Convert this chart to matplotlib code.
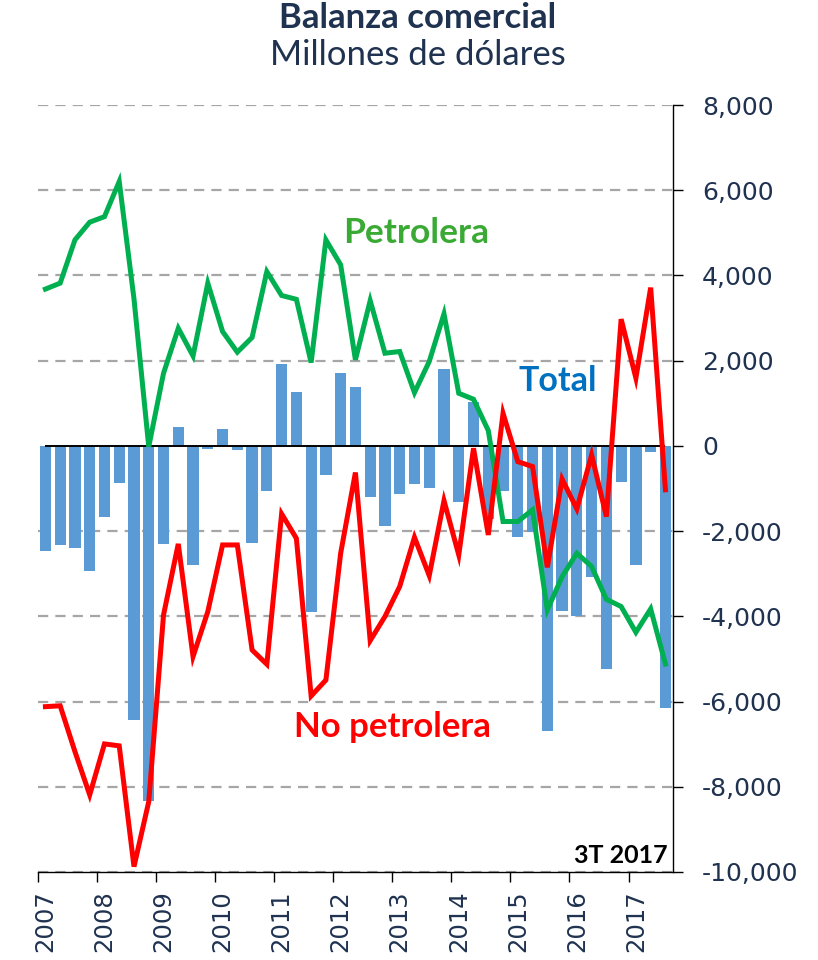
import matplotlib
matplotlib.use("Agg")
import matplotlib.pyplot as plt
import numpy as np

# ---- data (millones de dólares, trimestral 2007T1 - 2017T3) ----
years = ["2007", "2008", "2009", "2010", "2011", "2012", "2013", "2014", "2015", "2016", "2017"]

total = [-2470, -2320, -2400, -2930, -1660, -880, -6430, -8330,
         -2310, 455, -2800, -75, 390, -95, -2270, -1060,
         1920, 1260, -3900, -680, 1720, 1385, -1190, -1885,
         -1135, -900, -980, 1810, -1315, 1030, -1720, -1055,
         -2150, -2010, -6680, -3870, -4000, -3080, -5240, -850,
         -2785, -150, -6160]

petrolera = [3680, 3820, 4835, 5250, 5380, 6205, 3450, -20,
             1705, 2760, 2110, 3820, 2685, 2200, 2545, 4090,
             3530, 3440, 1955, 4835, 4250, 2020, 3410, 2175,
             2215, 1250, 1980, 3100, 1235, 1095, 360, -1775,
             -1775, -1500, -3850, -3070, -2520, -2830, -3600, -3770,
             -4375, -3825, -5120]

no_petrolera = [-6120, -6100, -7175, -8190, -6995, -7040, -9875, -8350,
                -3970, -2300, -4945, -3890, -2325, -2325, -4790, -5125,
                -1595, -2170, -5870, -5495, -2520, -625, -4570, -4005,
                -3300, -2145, -3045, -1285, -2560, -55, -2090, 765,
                -370, -485, -2850, -780, -1480, -210, -1660, 2975,
                1590, 3715, -1030]

yticks = [8000, 6000, 4000, 2000, 0, -2000, -4000, -6000, -8000, -10000]

# ---- styles ----
navy = "#1F3250"
bar_color = "#5B9BD5"
green = "#00B050"
red = "#FF0000"
label_font = ["Lato", "DejaVu Sans"]

x = np.arange(len(total))

fig = plt.figure(figsize=(8.18, 9.6), dpi=100)
ax = fig.add_axes([0.0465, 0.0917, 0.776, 0.7989])

# grid (dashed), skipping zero
for v in yticks:
    if v != 0:
        ax.axhline(v, color="#A6A6A6", lw=1.6, ls=(0, (4.6, 3.2)), zorder=0)

ax.bar(x, total, width=0.76, color=bar_color, zorder=2)
ax.hlines(0, x[0], x[-1], color="black", lw=1.4, zorder=3)
ax.plot(x, petrolera, color=green, lw=3.6, solid_joinstyle="miter", zorder=4)
ax.plot(x, no_petrolera, color=red, lw=3.6, solid_joinstyle="miter", zorder=5)

ax.set_xlim(-0.5, len(total) - 0.5)
ax.set_ylim(-10000, 8000)

# y axis on the right
ax.yaxis.tick_right()
ax.set_yticks(yticks)
ax.set_yticklabels([f"{v:,}" for v in yticks],
                   fontsize=18, color=navy, family="DejaVu Sans")
ax.tick_params(axis="y", direction="out", length=7, width=1.0, pad=14, colors="black", labelcolor=navy)

# x axis: ticks at year boundaries, labels at first quarter
ax.set_xticks(np.arange(0, len(total) + 1, 4) - 0.5)
ax.set_xticklabels([])
ax.set_xticks(np.arange(0, len(years) * 4, 4), minor=True)
ax.set_xticklabels(years, minor=True, rotation=90, fontsize=17.5, color=navy,
                   family="DejaVu Sans", va="top")
ax.tick_params(axis="x", which="major", direction="out", length=7, width=1.0)
ax.tick_params(axis="x", which="minor", length=0, pad=13)

for s in ["top", "left"]:
    ax.spines[s].set_visible(False)
ax.spines["right"].set_linewidth(1.0)
ax.spines["bottom"].set_linewidth(1.0)

# annotations
ax.text(25.1, 5000, "Petrolera", color="#3AAA35", fontsize=25.5, fontweight="bold",
        family=label_font, ha="center", va="center", zorder=6)
ax.text(34.7, 1520, "Total", color="#0070C0", fontsize=24.5, fontweight="bold",
        family=label_font, ha="center", va="center", zorder=6)
ax.text(23.5, -6600, "No petrolera", color=red, fontsize=25, fontweight="bold",
        family=label_font, ha="center", va="center", zorder=6)
ax.text(0.992, 0.006, "3T 2017", transform=ax.transAxes, color="black", fontsize=18,
        fontweight="bold", family=label_font, ha="right", va="bottom", zorder=6)

# titles
fig.text(0.511, 0.971, "Balanza comercial", color=navy, fontsize=25, fontweight="bold",
         family=label_font, ha="center", va="baseline")
fig.text(0.511, 0.932, "Millones de dólares", color=navy, fontsize=25,
         family=label_font, ha="center", va="baseline")

fig.savefig("out.png", dpi=100)
